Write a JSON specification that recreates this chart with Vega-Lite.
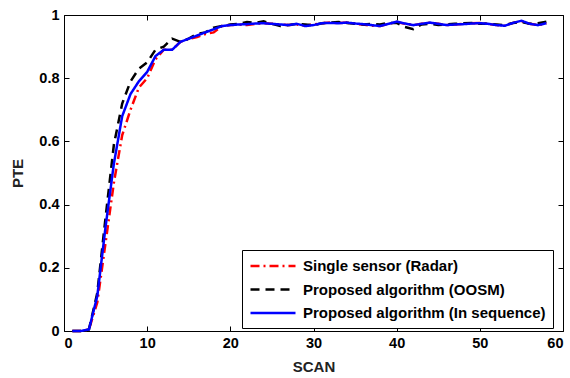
{
  "$schema": "https://vega.github.io/schema/vega-lite/v6.json",
  "width": 499,
  "height": 316,
  "autosize": {"type": "none"},
  "padding": {"left": 64, "top": 15, "right": 7, "bottom": 47},
  "config": {
    "view": {"stroke": "black", "strokeWidth": 1},
    "font": "Liberation Sans",
    "axis": {
      "domain": false, "grid": false,
      "tickColor": "black", "tickSize": -5, "tickWidth": 1,
      "labelFont": "Liberation Sans", "labelFontWeight": "bold", "labelFontSize": 14.5, "labelColor": "black",
      "titleFont": "Liberation Sans", "titleFontWeight": "bold", "titleFontSize": 15, "titleColor": "#222"
    }
  },
  "datasets": {
    "pts": [
      {"scan":1,"s":"Single sensor (Radar)","pte":0},{"scan":2,"s":"Single sensor (Radar)","pte":0},{"scan":3,"s":"Single sensor (Radar)","pte":0.005},{"scan":4,"s":"Single sensor (Radar)","pte":0.09},{"scan":5,"s":"Single sensor (Radar)","pte":0.28},{"scan":6,"s":"Single sensor (Radar)","pte":0.47},{"scan":7,"s":"Single sensor (Radar)","pte":0.62},{"scan":8,"s":"Single sensor (Radar)","pte":0.7},{"scan":9,"s":"Single sensor (Radar)","pte":0.77},{"scan":10,"s":"Single sensor (Radar)","pte":0.8},{"scan":11,"s":"Single sensor (Radar)","pte":0.86},{"scan":12,"s":"Single sensor (Radar)","pte":0.89},{"scan":13,"s":"Single sensor (Radar)","pte":0.89},{"scan":14,"s":"Single sensor (Radar)","pte":0.915},{"scan":15,"s":"Single sensor (Radar)","pte":0.925},{"scan":16,"s":"Single sensor (Radar)","pte":0.93},{"scan":17,"s":"Single sensor (Radar)","pte":0.94},{"scan":18,"s":"Single sensor (Radar)","pte":0.945},{"scan":19,"s":"Single sensor (Radar)","pte":0.965},{"scan":20,"s":"Single sensor (Radar)","pte":0.968},{"scan":21,"s":"Single sensor (Radar)","pte":0.97},{"scan":22,"s":"Single sensor (Radar)","pte":0.968},{"scan":23,"s":"Single sensor (Radar)","pte":0.972},{"scan":24,"s":"Single sensor (Radar)","pte":0.974},{"scan":25,"s":"Single sensor (Radar)","pte":0.972},{"scan":26,"s":"Single sensor (Radar)","pte":0.97},{"scan":27,"s":"Single sensor (Radar)","pte":0.968},{"scan":28,"s":"Single sensor (Radar)","pte":0.97},{"scan":29,"s":"Single sensor (Radar)","pte":0.966},{"scan":30,"s":"Single sensor (Radar)","pte":0.97},{"scan":31,"s":"Single sensor (Radar)","pte":0.974},{"scan":32,"s":"Single sensor (Radar)","pte":0.976},{"scan":33,"s":"Single sensor (Radar)","pte":0.974},{"scan":34,"s":"Single sensor (Radar)","pte":0.976},{"scan":35,"s":"Single sensor (Radar)","pte":0.972},{"scan":36,"s":"Single sensor (Radar)","pte":0.97},{"scan":37,"s":"Single sensor (Radar)","pte":0.966},{"scan":38,"s":"Single sensor (Radar)","pte":0.965},{"scan":39,"s":"Single sensor (Radar)","pte":0.972},{"scan":40,"s":"Single sensor (Radar)","pte":0.978},{"scan":41,"s":"Single sensor (Radar)","pte":0.972},{"scan":42,"s":"Single sensor (Radar)","pte":0.968},{"scan":43,"s":"Single sensor (Radar)","pte":0.972},{"scan":44,"s":"Single sensor (Radar)","pte":0.976},{"scan":45,"s":"Single sensor (Radar)","pte":0.972},{"scan":46,"s":"Single sensor (Radar)","pte":0.968},{"scan":47,"s":"Single sensor (Radar)","pte":0.97},{"scan":48,"s":"Single sensor (Radar)","pte":0.972},{"scan":49,"s":"Single sensor (Radar)","pte":0.974},{"scan":50,"s":"Single sensor (Radar)","pte":0.975},{"scan":51,"s":"Single sensor (Radar)","pte":0.972},{"scan":52,"s":"Single sensor (Radar)","pte":0.968},{"scan":53,"s":"Single sensor (Radar)","pte":0.966},{"scan":54,"s":"Single sensor (Radar)","pte":0.975},{"scan":55,"s":"Single sensor (Radar)","pte":0.981},{"scan":56,"s":"Single sensor (Radar)","pte":0.972},{"scan":57,"s":"Single sensor (Radar)","pte":0.968},{"scan":58,"s":"Single sensor (Radar)","pte":0.974},
      {"scan":1,"s":"Proposed algorithm (OOSM)","pte":0},{"scan":2,"s":"Proposed algorithm (OOSM)","pte":0},{"scan":3,"s":"Proposed algorithm (OOSM)","pte":0.005},{"scan":4,"s":"Proposed algorithm (OOSM)","pte":0.12},{"scan":5,"s":"Proposed algorithm (OOSM)","pte":0.36},{"scan":6,"s":"Proposed algorithm (OOSM)","pte":0.59},{"scan":7,"s":"Proposed algorithm (OOSM)","pte":0.72},{"scan":8,"s":"Proposed algorithm (OOSM)","pte":0.79},{"scan":9,"s":"Proposed algorithm (OOSM)","pte":0.83},{"scan":10,"s":"Proposed algorithm (OOSM)","pte":0.85},{"scan":11,"s":"Proposed algorithm (OOSM)","pte":0.89},{"scan":12,"s":"Proposed algorithm (OOSM)","pte":0.9},{"scan":13,"s":"Proposed algorithm (OOSM)","pte":0.925},{"scan":14,"s":"Proposed algorithm (OOSM)","pte":0.915},{"scan":15,"s":"Proposed algorithm (OOSM)","pte":0.925},{"scan":16,"s":"Proposed algorithm (OOSM)","pte":0.94},{"scan":17,"s":"Proposed algorithm (OOSM)","pte":0.945},{"scan":18,"s":"Proposed algorithm (OOSM)","pte":0.96},{"scan":19,"s":"Proposed algorithm (OOSM)","pte":0.965},{"scan":20,"s":"Proposed algorithm (OOSM)","pte":0.97},{"scan":21,"s":"Proposed algorithm (OOSM)","pte":0.972},{"scan":22,"s":"Proposed algorithm (OOSM)","pte":0.978},{"scan":23,"s":"Proposed algorithm (OOSM)","pte":0.975},{"scan":24,"s":"Proposed algorithm (OOSM)","pte":0.98},{"scan":25,"s":"Proposed algorithm (OOSM)","pte":0.972},{"scan":26,"s":"Proposed algorithm (OOSM)","pte":0.965},{"scan":27,"s":"Proposed algorithm (OOSM)","pte":0.968},{"scan":28,"s":"Proposed algorithm (OOSM)","pte":0.972},{"scan":29,"s":"Proposed algorithm (OOSM)","pte":0.97},{"scan":30,"s":"Proposed algorithm (OOSM)","pte":0.968},{"scan":31,"s":"Proposed algorithm (OOSM)","pte":0.974},{"scan":32,"s":"Proposed algorithm (OOSM)","pte":0.976},{"scan":33,"s":"Proposed algorithm (OOSM)","pte":0.978},{"scan":34,"s":"Proposed algorithm (OOSM)","pte":0.975},{"scan":35,"s":"Proposed algorithm (OOSM)","pte":0.972},{"scan":36,"s":"Proposed algorithm (OOSM)","pte":0.97},{"scan":37,"s":"Proposed algorithm (OOSM)","pte":0.972},{"scan":38,"s":"Proposed algorithm (OOSM)","pte":0.97},{"scan":39,"s":"Proposed algorithm (OOSM)","pte":0.975},{"scan":40,"s":"Proposed algorithm (OOSM)","pte":0.975},{"scan":41,"s":"Proposed algorithm (OOSM)","pte":0.962},{"scan":42,"s":"Proposed algorithm (OOSM)","pte":0.955},{"scan":43,"s":"Proposed algorithm (OOSM)","pte":0.97},{"scan":44,"s":"Proposed algorithm (OOSM)","pte":0.972},{"scan":45,"s":"Proposed algorithm (OOSM)","pte":0.968},{"scan":46,"s":"Proposed algorithm (OOSM)","pte":0.97},{"scan":47,"s":"Proposed algorithm (OOSM)","pte":0.972},{"scan":48,"s":"Proposed algorithm (OOSM)","pte":0.974},{"scan":49,"s":"Proposed algorithm (OOSM)","pte":0.975},{"scan":50,"s":"Proposed algorithm (OOSM)","pte":0.972},{"scan":51,"s":"Proposed algorithm (OOSM)","pte":0.972},{"scan":52,"s":"Proposed algorithm (OOSM)","pte":0.97},{"scan":53,"s":"Proposed algorithm (OOSM)","pte":0.968},{"scan":54,"s":"Proposed algorithm (OOSM)","pte":0.975},{"scan":55,"s":"Proposed algorithm (OOSM)","pte":0.978},{"scan":56,"s":"Proposed algorithm (OOSM)","pte":0.972},{"scan":57,"s":"Proposed algorithm (OOSM)","pte":0.974},{"scan":58,"s":"Proposed algorithm (OOSM)","pte":0.979},
      {"scan":1,"s":"Proposed algorithm (In sequence)","pte":0},{"scan":2,"s":"Proposed algorithm (In sequence)","pte":0},{"scan":3,"s":"Proposed algorithm (In sequence)","pte":0.005},{"scan":4,"s":"Proposed algorithm (In sequence)","pte":0.11},{"scan":5,"s":"Proposed algorithm (In sequence)","pte":0.33},{"scan":6,"s":"Proposed algorithm (In sequence)","pte":0.53},{"scan":7,"s":"Proposed algorithm (In sequence)","pte":0.68},{"scan":8,"s":"Proposed algorithm (In sequence)","pte":0.75},{"scan":9,"s":"Proposed algorithm (In sequence)","pte":0.79},{"scan":10,"s":"Proposed algorithm (In sequence)","pte":0.82},{"scan":11,"s":"Proposed algorithm (In sequence)","pte":0.87},{"scan":12,"s":"Proposed algorithm (In sequence)","pte":0.89},{"scan":13,"s":"Proposed algorithm (In sequence)","pte":0.89},{"scan":14,"s":"Proposed algorithm (In sequence)","pte":0.915},{"scan":15,"s":"Proposed algorithm (In sequence)","pte":0.925},{"scan":16,"s":"Proposed algorithm (In sequence)","pte":0.935},{"scan":17,"s":"Proposed algorithm (In sequence)","pte":0.945},{"scan":18,"s":"Proposed algorithm (In sequence)","pte":0.955},{"scan":19,"s":"Proposed algorithm (In sequence)","pte":0.965},{"scan":20,"s":"Proposed algorithm (In sequence)","pte":0.968},{"scan":21,"s":"Proposed algorithm (In sequence)","pte":0.97},{"scan":22,"s":"Proposed algorithm (In sequence)","pte":0.971},{"scan":23,"s":"Proposed algorithm (In sequence)","pte":0.973},{"scan":24,"s":"Proposed algorithm (In sequence)","pte":0.974},{"scan":25,"s":"Proposed algorithm (In sequence)","pte":0.972},{"scan":26,"s":"Proposed algorithm (In sequence)","pte":0.97},{"scan":27,"s":"Proposed algorithm (In sequence)","pte":0.968},{"scan":28,"s":"Proposed algorithm (In sequence)","pte":0.972},{"scan":29,"s":"Proposed algorithm (In sequence)","pte":0.965},{"scan":30,"s":"Proposed algorithm (In sequence)","pte":0.968},{"scan":31,"s":"Proposed algorithm (In sequence)","pte":0.974},{"scan":32,"s":"Proposed algorithm (In sequence)","pte":0.975},{"scan":33,"s":"Proposed algorithm (In sequence)","pte":0.974},{"scan":34,"s":"Proposed algorithm (In sequence)","pte":0.976},{"scan":35,"s":"Proposed algorithm (In sequence)","pte":0.973},{"scan":36,"s":"Proposed algorithm (In sequence)","pte":0.971},{"scan":37,"s":"Proposed algorithm (In sequence)","pte":0.968},{"scan":38,"s":"Proposed algorithm (In sequence)","pte":0.965},{"scan":39,"s":"Proposed algorithm (In sequence)","pte":0.972},{"scan":40,"s":"Proposed algorithm (In sequence)","pte":0.979},{"scan":41,"s":"Proposed algorithm (In sequence)","pte":0.973},{"scan":42,"s":"Proposed algorithm (In sequence)","pte":0.968},{"scan":43,"s":"Proposed algorithm (In sequence)","pte":0.972},{"scan":44,"s":"Proposed algorithm (In sequence)","pte":0.976},{"scan":45,"s":"Proposed algorithm (In sequence)","pte":0.972},{"scan":46,"s":"Proposed algorithm (In sequence)","pte":0.968},{"scan":47,"s":"Proposed algorithm (In sequence)","pte":0.97},{"scan":48,"s":"Proposed algorithm (In sequence)","pte":0.971},{"scan":49,"s":"Proposed algorithm (In sequence)","pte":0.973},{"scan":50,"s":"Proposed algorithm (In sequence)","pte":0.974},{"scan":51,"s":"Proposed algorithm (In sequence)","pte":0.972},{"scan":52,"s":"Proposed algorithm (In sequence)","pte":0.968},{"scan":53,"s":"Proposed algorithm (In sequence)","pte":0.966},{"scan":54,"s":"Proposed algorithm (In sequence)","pte":0.975},{"scan":55,"s":"Proposed algorithm (In sequence)","pte":0.982},{"scan":56,"s":"Proposed algorithm (In sequence)","pte":0.972},{"scan":57,"s":"Proposed algorithm (In sequence)","pte":0.968},{"scan":58,"s":"Proposed algorithm (In sequence)","pte":0.974}
    ]
  },
  "data": {"name": "pts"},
  "encoding": {
    "color": {
      "field": "s", "type": "nominal",
      "scale": {"domain": ["Single sensor (Radar)", "Proposed algorithm (OOSM)", "Proposed algorithm (In sequence)"], "range": ["#ff0000", "#000000", "#0000ff"]},
      "legend": {
        "title": null, "orient": "none", "legendX": 178, "legendY": 235,
        "symbolType": "M-1,0H5", "symbolSize": 225, "symbolStrokeWidth": 2.5,
        "labelFont": "Liberation Sans", "labelFontWeight": "bold", "labelFontSize": 15, "labelColor": "black",
        "strokeColor": "black", "fillColor": "white", "padding": 7, "rowPadding": 6.5, "labelOffset": 36,
        "labelLimit": 400
      }
    },
    "strokeDash": {
      "field": "s", "type": "nominal",
      "scale": {"domain": ["Single sensor (Radar)", "Proposed algorithm (OOSM)", "Proposed algorithm (In sequence)"], "range": [[9, 4, 2, 4], [9, 6], [1, 0]]},
      "legend": null
    }
  },
  "layer": [
    {
      "transform": [{"filter": "datum.s == 'Single sensor (Radar)'"}],
      "mark": {"type": "line", "strokeWidth": 2.5},
      "encoding": {
        "x": {"field": "scan", "type": "quantitative", "scale": {"domain": [0, 60], "nice": false}, "axis": {"title": "SCAN", "values": [0,10,20,30,40,50,60], "orient": "bottom", "labelPadding": 10, "titlePadding": 10}},
        "y": {"field": "pte", "type": "quantitative", "scale": {"domain": [0, 1], "nice": false}, "axis": {"title": "PTE", "values": [0,0.2,0.4,0.6,0.8,1], "format": "~g", "orient": "left", "labelPadding": 10, "titlePadding": 13}}
      }
    },
    {
      "transform": [{"filter": "datum.s == 'Proposed algorithm (OOSM)'"}],
      "mark": {"type": "line", "strokeWidth": 2.5},
      "encoding": {
        "x": {"field": "scan", "type": "quantitative", "axis": null},
        "y": {"field": "pte", "type": "quantitative", "axis": null}
      }
    },
    {
      "transform": [{"filter": "datum.s == 'Proposed algorithm (In sequence)'"}],
      "mark": {"type": "line", "strokeWidth": 2.5},
      "encoding": {
        "x": {"field": "scan", "type": "quantitative", "axis": null},
        "y": {"field": "pte", "type": "quantitative", "axis": null}
      }
    },
    {
      "mark": {"type": "point", "opacity": 0},
      "encoding": {
        "x": {"field": "scan", "type": "quantitative", "axis": {"title": null, "values": [0,10,20,30,40,50,60], "orient": "top", "labels": false}},
        "y": {"field": "pte", "type": "quantitative", "axis": {"title": null, "values": [0,0.2,0.4,0.6,0.8,1], "orient": "right", "labels": false}},
        "color": {"value": "transparent"},
        "strokeDash": {"value": [1, 0]}
      }
    }
  ],
  "resolve": {"axis": {"x": "independent", "y": "independent"}}
}
